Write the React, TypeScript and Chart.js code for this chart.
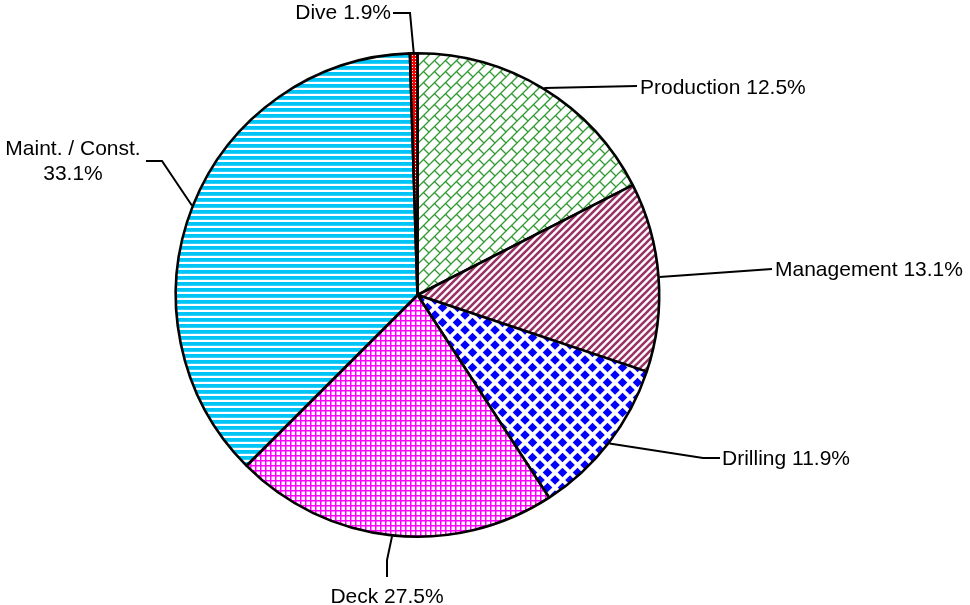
import React, { useEffect, useRef } from 'react';
import { Chart, registerables } from 'chart.js';

Chart.register(...registerables);

// ---- data ----
const categories = ['Production', 'Management', 'Drilling', 'Deck', 'Maint. / Const.', 'Dive'];
const sliceShares = [17.5, 12.65, 10.7, 21.7, 37.0, 0.5];
const percentLabels = ['12.5%', '13.1%', '11.9%', '27.5%', '33.1%', '1.9%'];

// ---- label layout (leader bends + text anchor), canvas px ----
type Layout = { bends: number[][]; textX: number; baselines: number[]; align: CanvasTextAlign; split?: boolean };
const labelLayout: Layout[] = [
  { bends: [[637, 86]], textX: 640, baselines: [94], align: 'left' },
  { bends: [[772, 269]], textX: 775, baselines: [276], align: 'left' },
  { bends: [[703, 458], [720, 458]], textX: 722, baselines: [465], align: 'left' },
  { bends: [[387, 560], [387, 577]], textX: 387, baselines: [602.5], align: 'center' },
  { bends: [[162, 161], [146, 161]], textX: 73, baselines: [155, 180], align: 'center', split: true },
  { bends: [[410, 13], [393, 13]], textX: 391, baselines: [18.5], align: 'right' },
];

function makeTile(size: number, draw: (c: CanvasRenderingContext2D, s: number) => void): CanvasPattern | string {
  const cv = document.createElement('canvas');
  cv.width = size;
  cv.height = size;
  const c = cv.getContext('2d')!;
  c.fillStyle = '#ffffff';
  c.fillRect(0, 0, size, size);
  draw(c, size);
  const p = c.createPattern(cv, 'repeat');
  return p || '#ccc';
}

function brickPattern() {
  return makeTile(11, (c, T) => {
    c.strokeStyle = '#2f9a2f';
    c.lineWidth = 1.3;
    c.beginPath();
    for (const k of [0, T, 2 * T]) {
      c.moveTo(-2, k + 2);
      c.lineTo(k + 2, -2);
    }
    c.moveTo(T / 2, T / 2);
    c.lineTo(T + 1, T + 1);
    c.moveTo(-1, -1);
    c.lineTo(0, 0);
    c.stroke();
  });
}

function stripePattern() {
  return makeTile(7, (c, T) => {
    c.strokeStyle = '#993366';
    c.lineWidth = 2.6;
    c.beginPath();
    for (const k of [0, T, 2 * T]) {
      c.moveTo(-2, k + 2);
      c.lineTo(k + 2, -2);
    }
    c.stroke();
  });
}

function diamondPattern() {
  return makeTile(15, (c, T) => {
    c.fillStyle = '#0000ff';
    const r = 4.8;
    const centers = [[T / 2, T / 2], [0, 0], [T, 0], [0, T], [T, T]];
    for (const [x, y] of centers) {
      c.beginPath();
      c.moveTo(x, y - r);
      c.lineTo(x + r, y);
      c.lineTo(x, y + r);
      c.lineTo(x - r, y);
      c.closePath();
      c.fill();
    }
  });
}

function gridPattern() {
  return makeTile(5, (c, T) => {
    c.fillStyle = '#ff00ff';
    c.fillRect(0, 0, T, 1.5);
    c.fillRect(0, 0, 1.5, T);
  });
}

function hStripePattern() {
  return makeTile(6, (c, T) => {
    c.fillStyle = '#00c4f5';
    c.fillRect(0, 0, T, 3.8);
  });
}

function confettiPattern() {
  return makeTile(3, (c) => {
    c.fillStyle = '#ff0000';
    c.fillRect(0, 0, 3, 3);
    c.fillStyle = '#ffffff';
    c.fillRect(1, 1, 1, 1);
  });
}

const leaderPlugin = {
  id: 'leaders',
  afterDraw(chart: any) {
    const ctx: CanvasRenderingContext2D = chart.ctx;
    const meta = chart.getDatasetMeta(0);
    ctx.save();
    ctx.strokeStyle = '#000';
    ctx.lineWidth = 2;
    ctx.fillStyle = '#000';
    ctx.font = '21px "Liberation Sans", Arial, sans-serif';
    meta.data.forEach((arc: any, i: number) => {
      const p = arc.getProps(['x', 'y', 'startAngle', 'endAngle', 'outerRadius'], true);
      const mid = (p.startAngle + p.endAngle) / 2;
      const ax = p.x + Math.cos(mid) * (p.outerRadius + 1);
      const ay = p.y + Math.sin(mid) * (p.outerRadius + 1);
      const L = labelLayout[i];
      ctx.beginPath();
      ctx.moveTo(ax, ay);
      for (const [bx, by] of L.bends) ctx.lineTo(bx, by);
      ctx.stroke();
      const lines = L.split ? [categories[i], percentLabels[i]] : [categories[i] + ' ' + percentLabels[i]];
      ctx.textAlign = L.align;
      ctx.textBaseline = 'alphabetic';
      lines.forEach((t, j) => ctx.fillText(t, L.textX, L.baselines[j]));
    });
    ctx.restore();
  },
};

export default function App() {
  const ref = useRef<HTMLCanvasElement | null>(null);
  useEffect(() => {
    document.body.style.margin = '0';
    const canvas = ref.current!;
    const chart = new Chart(canvas, {
      type: 'pie',
      data: {
        labels: categories,
        datasets: [
          {
            data: sliceShares,
            backgroundColor: [
              brickPattern(),
              stripePattern(),
              diamondPattern(),
              gridPattern(),
              hStripePattern(),
              confettiPattern(),
            ] as any,
            borderColor: '#000000',
            borderWidth: 2.6,
          },
        ],
      },
      options: {
        responsive: false,
        animation: false,
        layout: { padding: { left: 174.5, right: 309.5, top: 52, bottom: 67 } },
        plugins: { legend: { display: false }, tooltip: { enabled: false } },
      },
      plugins: [leaderPlugin],
    });
    return () => chart.destroy();
  }, []);
  return (
    <div style={{ position: 'fixed', left: 0, top: 0, width: 970, height: 605, background: '#fff' }}>
      <canvas ref={ref} width={970} height={605} style={{ width: 970, height: 605, display: 'block' }} />
    </div>
  );
}
